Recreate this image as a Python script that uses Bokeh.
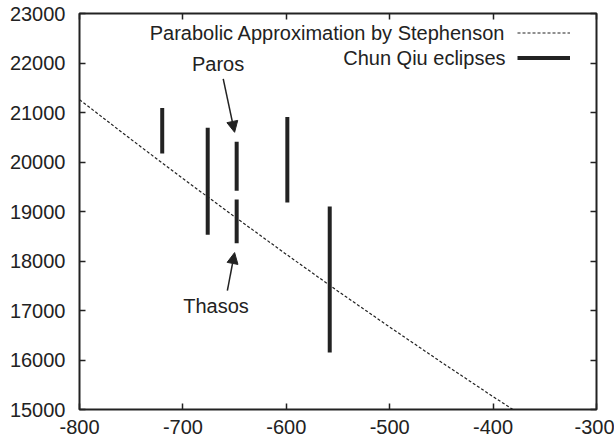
from bokeh.plotting import figure
from bokeh.models import (Range1d, FixedTicker, LinearAxis, Legend, LegendItem, Label,
                          Arrow, NormalHead, CustomJSTickFormatter, ColumnDataSource)
from bokeh.core.properties import value
from bokeh.embed import file_html
from bokeh.resources import INLINE

FONT = "Liberation Sans"
INK = "#222222"
FS = "20px"

# ---- data ----
par_year = [-800, -750, -700, -650, -600, -550, -500, -450, -400, -350]
par_dt = [21260, 20455, 19665, 18895, 18135, 17390, 16665, 15955, 15260, 14580]

cq_year = [-720, -676, -599, -558]
cq_lo = [20170, 18530, 19180, 16150]
cq_hi = [21090, 20690, 20910, 19100]

gr_year = [-648, -648]
gr_lo = [19420, 18360]
gr_hi = [20410, 19240]

note_text = ["Paros", "Thasos"]
note_x = [-666, -668]
note_y = [21975, 17095]

arrow_x0 = [-661, -657]
arrow_y0 = [21680, 17400]
arrow_x1 = [-650, -650]
arrow_y1 = [20600, 18170]

x_ticks = [-800, -700, -600, -500, -400, -300]
y_ticks = [15000, 16000, 17000, 18000, 19000, 20000, 21000, 22000, 23000]

legend_text = ["Parabolic Approximation by Stephenson", "Chun Qiu eclipses"]
legend_text_x = [-388, -388]
legend_text_y = [22610, 22100]

# ---- figure ----
p = figure(frame_width=517, frame_height=396,
           x_range=Range1d(-800, -300), y_range=Range1d(15000, 23000),
           output_backend="svg", toolbar_location=None,
           min_border_left=79, min_border_right=18,
           min_border_top=13, min_border_bottom=35)
p.background_fill_color = "white"
p.border_fill_color = "white"
p.outline_line_color = INK
p.outline_line_width = 2
p.xgrid.visible = False
p.ygrid.visible = False

plain = CustomJSTickFormatter(code="return tick.toString()")
for ax, ticks in ((p.xaxis[0], x_ticks), (p.yaxis[0], y_ticks)):
    ax.ticker = FixedTicker(ticks=ticks)
    ax.formatter = plain
    ax.axis_line_color = None
    ax.major_tick_in = 6
    ax.major_tick_out = 0
    ax.major_tick_line_color = INK
    ax.major_tick_line_width = 1.5
    ax.minor_tick_line_color = None
    ax.major_label_text_font = FONT
    ax.major_label_text_font_size = FS
    ax.major_label_text_color = INK
p.yaxis[0].major_label_standoff = 14
p.xaxis[0].major_label_standoff = 10

# mirrored ticks (top and right)
for place, ticks in (("above", x_ticks), ("right", y_ticks)):
    ax = LinearAxis(ticker=FixedTicker(ticks=ticks),
                    formatter=CustomJSTickFormatter(code="return ''"))
    ax.axis_line_color = None
    ax.major_tick_in = 6
    ax.major_tick_out = 0
    ax.major_tick_line_color = INK
    ax.major_tick_line_width = 1.5
    ax.minor_tick_line_color = None
    ax.major_label_text_font_size = "1px"
    ax.major_label_standoff = 0
    p.add_layout(ax, place)

# parabola
line_r = p.line(par_year, par_dt, line_color=INK, line_width=1.2, line_dash="3 2")

# bars
cq_src = ColumnDataSource(dict(x=cq_year, lo=cq_lo, hi=cq_hi))
cq_r = p.segment(x0="x", y0="lo", x1="x", y1="hi", source=cq_src,
                 line_color=INK, line_width=4)
gr_src = ColumnDataSource(dict(x=gr_year, lo=gr_lo, hi=gr_hi))
p.segment(x0="x", y0="lo", x1="x", y1="hi", source=gr_src,
          line_color=INK, line_width=4)

# annotations
note_src = ColumnDataSource(dict(x=note_x, y=note_y, t=note_text))
p.text(x="x", y="y", text="t", source=note_src, text_align="center",
       text_baseline="middle", text_font=value(FONT), text_font_size=FS,
       text_color=INK)

for xs, ys, xe, ye in zip(arrow_x0, arrow_y0, arrow_x1, arrow_y1):
    p.add_layout(Arrow(end=NormalHead(size=11, fill_color=INK, line_color=INK, line_width=1),
                       x_start=xs, y_start=ys, x_end=xe, y_end=ye,
                       line_color=INK, line_width=1.5))

# legend (text right-aligned, sample to its right, gnuplot style)
for t, lx, ly in zip(legend_text, legend_text_x, legend_text_y):
    p.add_layout(Label(x=lx, y=ly, text=t, text_align="right", text_baseline="middle",
                       text_font=FONT, text_font_size=FS, text_color=INK))

legend = Legend(items=[LegendItem(label=" ", renderers=[line_r]),
                       LegendItem(label=" ", renderers=[cq_r])],
                location=(438, 339), glyph_width=53, glyph_height=25,
                label_height=25, label_width=1, label_standoff=0,
                padding=0, margin=0, spacing=0,
                border_line_color=None, background_fill_alpha=0,
                label_text_font_size="1px")
p.add_layout(legend)

open("out.html", "w").write(file_html(p, INLINE))
